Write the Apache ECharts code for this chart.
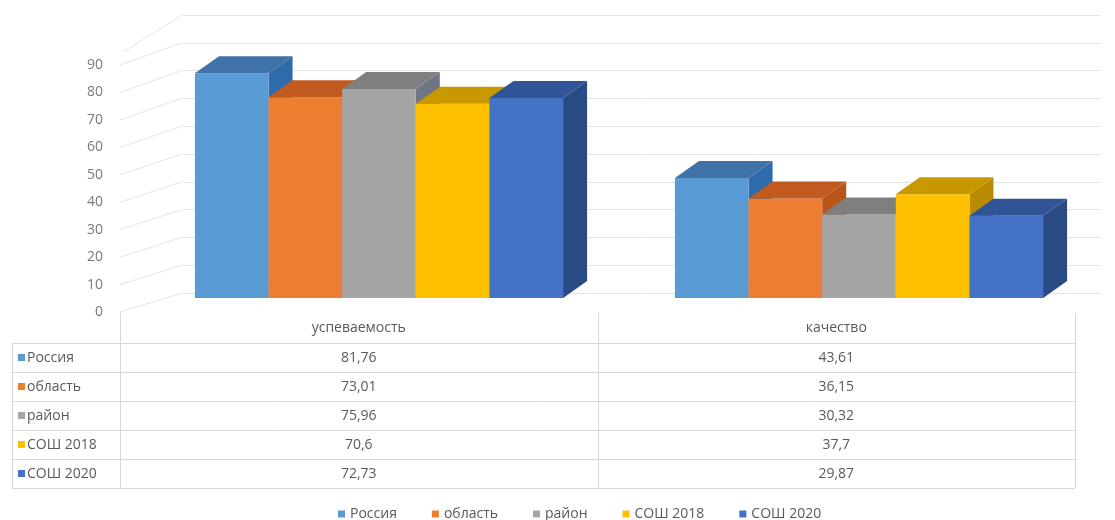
<!DOCTYPE html>
<html><head><meta charset="utf-8">
<script src="https://cdn.jsdelivr.net/npm/echarts@6/dist/echarts.min.js"></script>
<style>html,body{margin:0;padding:0;background:#fff}#c{width:1115px;height:520px}</style>
</head><body><div id="c"></div>
<script>
// ---- data ----
const categories = ['успеваемость', 'качество'];
const seriesNames = ['Россия', 'область', 'район', 'СОШ 2018', 'СОШ 2020'];
const russia = [81.76, 43.61];
const oblast = [73.01, 36.15];
const raion = [75.96, 30.32];
const sosh2018 = [70.6, 37.7];
const sosh2020 = [72.73, 29.87];
const yTicks = [0, 10, 20, 30, 40, 50, 60, 70, 80, 90];
const wallTicks = [0, 10, 20, 30, 40, 50, 60, 70, 80, 90, 100];

const seriesValues = [russia, oblast, raion, sosh2018, sosh2020];
const frontColors = ['#5B9BD5', '#ED7D31', '#A5A5A5', '#FFC000', '#4472C4'];
const topColors = ['#3F72A6', '#C05A1E', '#7F7F7F', '#C79800', '#2F5597'];
const sideColors = ['#2F6AAA', '#B8551B', '#6F7584', '#B88C00', '#2A4A86'];
const FONT = '"Open Sans", "Liberation Sans", sans-serif';
const TXT = '#595959';

const chart = echarts.init(document.getElementById('c'), null, {renderer: 'canvas'});

function barRenderer(sIdx) {
  return function (params, api) {
    const cat = api.value(0), val = api.value(1);
    const top = api.coord([cat, val]);
    const base = api.coord([cat, 0]);
    const band = api.size([1, 0])[0];
    const w = band * 0.767 / seriesNames.length;
    const x0 = top[0] - w * seriesNames.length / 2 + sIdx * w;
    const x1 = x0 + w;
    const yT = top[1], yB = base[1];
    const dx = 24, dy = 17;
    return {
      type: 'group',
      children: [
        {type: 'polygon', shape: {points: [[x1, yT], [x1 + dx, yT - dy], [x1 + dx, yB - dy], [x1, yB]]},
          style: {fill: sideColors[sIdx]}},
        {type: 'rect', shape: {x: x0, y: yT, width: w, height: yB - yT}, style: {fill: frontColors[sIdx]}},
        {type: 'polygon', shape: {points: [[x0, yT], [x1, yT], [x1 + dx, yT - dy], [x0 + dx, yT - dy]]},
          style: {fill: topColors[sIdx]}}
      ]
    };
  };
}

function diagRenderer(params, api) {
  const v = api.value(1);
  const p = api.coord([0, v]);
  const top = v === 100;
  return {
    type: 'line',
    shape: {x1: p[0] + (top ? 4 : 0), y1: p[1] + (top ? 14 : 0), x2: p[0] + 62, y2: p[1] - 19 - 0.036 * v},
    style: {stroke: '#e3e3e3', lineWidth: 1}
  };
}

const series = seriesNames.map((name, i) => ({
  name: name,
  type: 'custom',
  xAxisIndex: 0, yAxisIndex: 0,
  renderItem: barRenderer(i),
  itemStyle: {color: frontColors[i]},
  encode: {x: 0, y: 1},
  clip: false,
  z: 5,
  data: categories.map((c, j) => [j, seriesValues[i][j]])
}));
series.push({
  type: 'custom',
  xAxisIndex: 2, yAxisIndex: 2,
  renderItem: diagRenderer,
  encode: {x: 0, y: 1},
  clip: false,
  silent: true,
  z: 1,
  data: wallTicks.map(v => [0, v])
});

chart.setOption({
  animation: false,
  color: frontColors,
  grid: [
    {left: 139, right: 16, top: 50.5, bottom: 222},   // bar front plane
    {left: 183, right: 15, top: 15, bottom: 227},     // back wall
    {left: 120, right: 994, top: 65, bottom: 208},    // value labels
    {left: 120, right: 40, top: 313, bottom: 32}      // data table columns
  ],
  xAxis: [
    {type: 'category', data: categories, gridIndex: 0, show: false},
    {type: 'value', gridIndex: 1, min: 0, max: 1, show: false},
    {type: 'value', gridIndex: 2, min: 0, max: 1, show: false},
    {type: 'category', data: categories, gridIndex: 3, show: false}
  ],
  yAxis: [
    {type: 'value', gridIndex: 0, min: 0, max: 90, show: false},
    {type: 'value', gridIndex: 1, min: 0, max: 100, interval: 10,
      axisLine: {show: false}, axisTick: {show: false}, axisLabel: {show: false},
      splitLine: {show: true, lineStyle: {color: '#e3e3e3', width: 1}}},
    {type: 'value', gridIndex: 2, min: 0, max: 90, interval: 10,
      axisLine: {show: false}, axisTick: {show: false}, splitLine: {show: false},
      axisLabel: {show: true, margin: 17, fontSize: 14, color: '#7a7a7a', fontFamily: FONT}},
    {type: 'value', gridIndex: 3, show: false}
  ],
  legend: {
    data: seriesNames, left: 333, top: 502, icon: 'rect', itemWidth: 7, itemHeight: 7, itemGap: 35,
    textStyle: {fontSize: 14, color: TXT, fontFamily: FONT}, selectedMode: false
  },
  series: series
});

// ---- data table ----
const fmt = v => String(v).replace('.', ',');
const lineColor = '#d9d9d9';
const rowTop = 343, rowH = 29, tableLeft = 12;
const centers = categories.map((c, j) => chart.convertToPixel({xAxisIndex: 3}, j));
const bandW = centers[1] - centers[0];
const colEdges = [centers[0] - bandW / 2, centers[0] + bandW / 2, centers[1] + bandW / 2];
const tableRight = colEdges[2];
const g = [];
function hline(y, xa, xb) { g.push({type: 'line', shape: {x1: xa, y1: Math.round(y) + 0.5, x2: xb, y2: Math.round(y) + 0.5}, style: {stroke: lineColor, lineWidth: 1}, silent: true}); }
function vline(x, ya, yb) { g.push({type: 'line', shape: {x1: Math.round(x) + 0.5, y1: ya, x2: Math.round(x) + 0.5, y2: yb}, style: {stroke: lineColor, lineWidth: 1}, silent: true}); }
function text(t, x, y, align) {
  g.push({type: 'text', x: x, y: y, silent: true,
    style: {text: t, fill: TXT, fontSize: 14, fontFamily: FONT, align: align, verticalAlign: 'middle', textAlign: align, textVerticalAlign: 'middle'}});
}
for (let k = 0; k <= seriesNames.length; k++) hline(rowTop + k * rowH, tableLeft, tableRight);
vline(tableLeft, rowTop, rowTop + seriesNames.length * rowH);
colEdges.forEach(x => vline(x, 313, rowTop + seriesNames.length * rowH));
categories.forEach((c, j) => text(c, centers[j], 328, 'center'));
seriesNames.forEach((name, i) => {
  const yc = rowTop + rowH * i + rowH / 2 + 0.5;
  g.push({type: 'rect', shape: {x: 18, y: Math.round(yc) - 4, width: 7, height: 7}, style: {fill: frontColors[i]}, silent: true});
  text(name, 27, yc, 'left');
  categories.forEach((c, j) => text(fmt(seriesValues[i][j]), centers[j], yc, 'center'));
});
chart.setOption({graphic: {elements: g}});
</script>
</body></html>
